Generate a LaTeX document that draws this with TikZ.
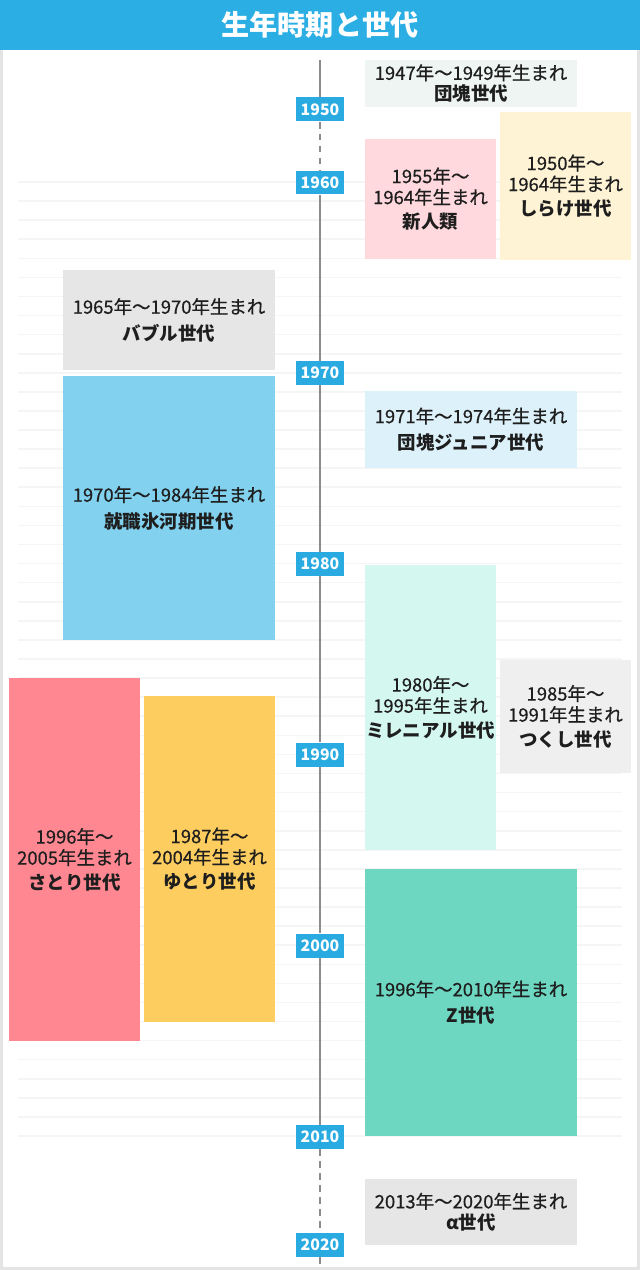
\documentclass[tikz,border=0pt]{standalone}
\usepackage{fontspec}
\setmainfont{Noto Sans CJK JP}
\newfontfamily\yearsfont{Noto Sans CJK JP}[FakeBold=0.5]
\usetikzlibrary{positioning}

\definecolor{headblue}{HTML}{2BAEE3}
\definecolor{labelblue}{HTML}{29ABE2}
\definecolor{axisgray}{HTML}{8C8C8C}
\definecolor{framegray}{HTML}{E4E4E4}
\definecolor{rulegray}{HTML}{F5F5F5}
\definecolor{inkdark}{HTML}{1E1E1E}
\definecolor{cDankai}{HTML}{EEF5F3}
\definecolor{cShinjin}{HTML}{FFD9DD}
\definecolor{cShirake}{HTML}{FFF3D6}
\definecolor{cBubble}{HTML}{E6E6E6}
\definecolor{cHyougaki}{HTML}{82D1EF}
\definecolor{cJunior}{HTML}{DCF1FA}
\definecolor{cMillen}{HTML}{D4F7EF}
\definecolor{cTsukushi}{HTML}{EFEFEF}
\definecolor{cSatori}{HTML}{FE8791}
\definecolor{cYutori}{HTML}{FDCD5F}
\definecolor{cZgen}{HTML}{6ED7C1}
\definecolor{cAlpha}{HTML}{E6E6E6}

\newcommand{\genname}[1]{{\normalfont\bfseries #1}}

\tikzset{
  gen/.style={inner sep=0pt, align=center, text=inkdark,
    font=\yearsfont\fontsize{10.5}{12}\selectfont},
  wide/.style={minimum width=4.24cm},
  narrow/.style={minimum width=2.62cm},
  yearbox/.style={fill=labelblue, text=white, inner sep=0pt,
    minimum width=0.96cm, minimum height=0.48cm,
    font=\bfseries\fontsize{9}{10}\selectfont},
  timeline/.style={draw=axisgray, line width=1.7pt},
  gapline/.style={timeline, dash pattern=on 3.8pt off 3pt},
  yearrule/.style={draw=rulegray, line width=0.9pt}
}

\begin{document}
\begin{tikzpicture}[x=0.02cm, y=-0.02cm]
  \useasboundingbox (0,0) rectangle (640,1270);
  % frame and header
  \fill[framegray] (0,50) rectangle (640,1270);
  \fill[white] (3,50) rectangle (637,1267);
  \fill[headblue] (0,0) rectangle (640,50);
  \node[text=white, font=\bfseries\fontsize{16}{18}\selectfont] (title) at (320,25) {生年時期と世代};

  % one faint rule per year, 1960--2010
  \foreach \k in {0,...,50}
    \draw[yearrule] (18,{182+19.08*\k}) -- (622,{182+19.08*\k});

  % generation boxes
  \node[gen, wide, minimum height=0.94cm, fill=cDankai] (dankai) at (471,83.5)
    {1947年〜1949年生まれ\\\genname{団塊世代}};
  \node[gen, narrow, minimum height=2.40cm, fill=cShinjin] (shinjin) at (430.5,199)
    {1955年〜\\1964年生まれ\\[2pt]\genname{新人類}};
  \node[gen, narrow, minimum height=2.96cm, fill=cShirake] (shirake) at (565.5,186)
    {1950年〜\\1964年生まれ\\[2pt]\genname{しらけ世代}};
  \node[gen, wide, minimum height=2.00cm, fill=cBubble] (bubble) at (169,320)
    {1965年〜1970年生まれ\\[3pt]\genname{バブル世代}};
  \node[gen, wide, minimum height=5.28cm, fill=cHyougaki] (hyougaki) at (169,508)
    {1970年〜1984年生まれ\\[3pt]\genname{就職氷河期世代}};
  \node[gen, wide, minimum height=1.54cm, fill=cJunior] (junior) at (471,429.5)
    {1971年〜1974年生まれ\\[3pt]\genname{団塊ジュニア世代}};
  \node[gen, narrow, minimum height=5.70cm, fill=cMillen] (millen) at (430.5,707.5)
    {1980年〜\\1995年生まれ\\[2pt]\genname{ミレニアル世代}};
  \node[gen, narrow, minimum height=2.26cm, fill=cTsukushi] (tsukushi) at (565.5,716.5)
    {1985年〜\\1991年生まれ\\[2pt]\genname{つくし世代}};
  \node[gen, narrow, minimum height=7.26cm, fill=cSatori] (satori) at (74.5,859.5)
    {1996年〜\\2005年生まれ\\[2pt]\genname{さとり世代}};
  \node[gen, narrow, minimum height=6.52cm, fill=cYutori] (yutori) at (209.5,859)
    {1987年〜\\2004年生まれ\\[2pt]\genname{ゆとり世代}};
  \node[gen, wide, minimum height=5.34cm, fill=cZgen] (zgen) at (471,1002.5)
    {1996年〜2010年生まれ\\[3pt]\genname{Z世代}};
  \node[gen, wide, minimum height=1.32cm, fill=cAlpha] (alpha) at (471,1212)
    {2013年〜2020年生まれ\\\genname{α世代}};

  % time axis with year labels
  \coordinate (axtop) at (320,60);
  \coordinate (axend) at (320,1266);
  \foreach \yr/\yy in {1950/109.5,1960/182.5,1970/373,1980/564,1990/754.5,2000/945.5,2010/1137,2020/1245}
    \node[yearbox] (y\yr) at (320,\yy) {\yr};
  \draw[timeline] (axtop) -- (y1950);
  \draw[gapline] (y1950) -- (y1960);
  \draw[timeline] (y1960) -- (y1970) -- (y1980) -- (y1990) -- (y2000) -- (y2010);
  \draw[gapline] (y2010) -- (y2020);
  \draw[gapline] (y2020) -- (axend);
\end{tikzpicture}
\end{document}
